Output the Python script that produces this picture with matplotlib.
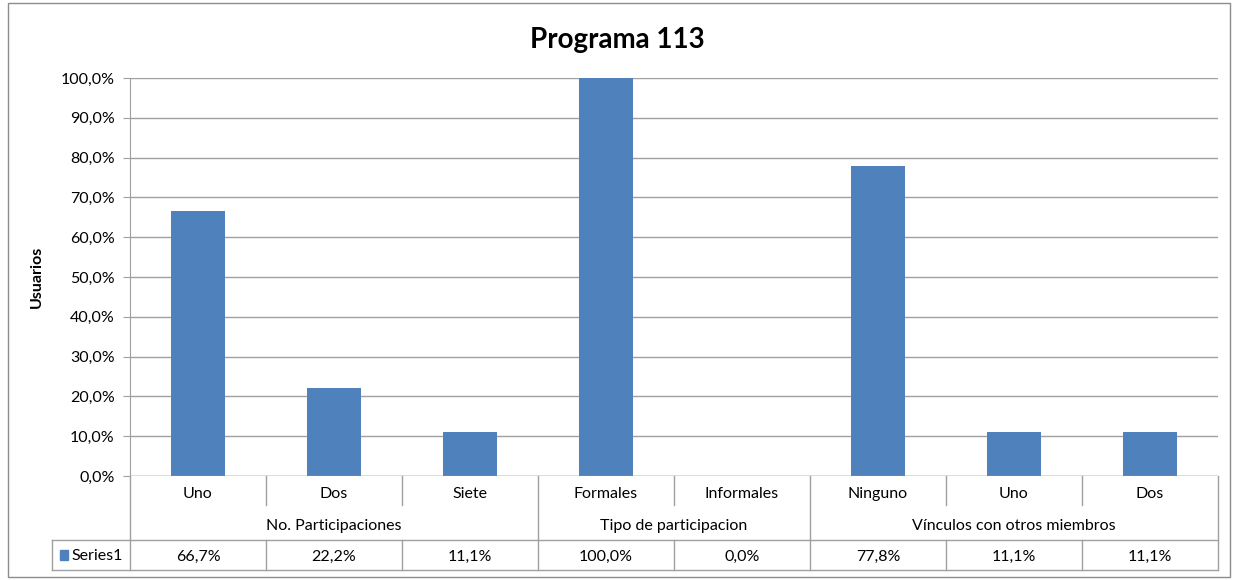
import matplotlib
matplotlib.use("Agg")
import matplotlib.pyplot as plt
from matplotlib.patches import Rectangle
from matplotlib.transforms import blended_transform_factory

plt.rcParams["font.family"] = ["Lato", "DejaVu Sans"]

# datos del grafico
categorias = ["Uno", "Dos", "Siete", "Formales", "Informales", "Ninguno", "Uno", "Dos"]
grupos = ["No. Participaciones", "Tipo de participacion", "Vínculos con otros miembros"]
tam_grupos = [3, 2, 3]
valores = [66.7, 22.2, 11.1, 100.0, 0.0, 77.8, 11.1, 11.1]
serie = "Series1"
yticks = [0, 10, 20, 30, 40, 50, 60, 70, 80, 90, 100]

color_barra = "#4F81BD"
gris = "#A0A0A0"
fs = 11.5

W, H = 1234, 580
fig = plt.figure(figsize=(W / 100, H / 100), dpi=100)
# area de trazado en pixeles: x 130-1218, y 78-476
ax = fig.add_axes([130 / W, 1 - 476 / H, (1218 - 130) / W, (476 - 78) / H])

x = list(range(len(categorias)))
ax.bar(x, valores, width=0.4, color=color_barra, zorder=3)
ax.set_xlim(-0.5, len(categorias) - 0.5)
ax.set_ylim(0, 100)
ax.set_yticks(yticks)
ax.set_yticklabels([f"{v:.1f}%".replace(".", ",") for v in yticks], fontsize=fs)
ax.yaxis.grid(True, color=gris, lw=1, zorder=0)
ax.set_xticks([])
for s in ["top", "right", "bottom"]:
    ax.spines[s].set_visible(False)
ax.spines["left"].set_color(gris)
ax.tick_params(axis="y", length=5, color=gris, pad=6)
ax.set_ylabel("Usuarios", fontsize=fs, fontweight="bold", labelpad=12)
ax.axhline(0, color=gris, lw=1, zorder=4)

fig.suptitle("Programa 113", fontsize=20, fontweight="bold", y=1 - 40 / H, va="center")

# tabla de datos debajo del eje
tr = blended_transform_factory(ax.transData, ax.transAxes)
px = (1218 - 130) / len(categorias)
x_izq = -0.5 - (130 - 52) / px
y_cat = -33 / 398
y_grp = -64 / 398
y_ser = -94 / 398
kw = dict(color=gris, lw=1, transform=tr, clip_on=False)

ax.plot([x_izq, 7.5], [y_grp, y_grp], **kw)
ax.plot([x_izq, 7.5], [y_ser, y_ser], **kw)
ax.plot([x_izq, x_izq], [y_grp, y_ser], **kw)

limites = [-0.5]
for n in tam_grupos:
    limites.append(limites[-1] + n)
for b in [i - 0.5 for i in range(len(categorias) + 1)]:
    if b in limites:
        ax.plot([b, b], [0, y_ser], **kw)
    else:
        ax.plot([b, b], [0, y_cat + 0.01], **kw)
        ax.plot([b, b], [y_grp, y_ser], **kw)

tk = dict(ha="center", va="center_baseline", fontsize=fs, transform=tr)
for i, c in enumerate(categorias):
    ax.text(i, y_cat / 2, c, **tk)
    ax.text(i, (y_grp + y_ser) / 2, f"{valores[i]:.1f}%".replace(".", ","), **tk)
for g, a, b in zip(grupos, limites[:-1], limites[1:]):
    ax.text((a + b) / 2, (y_cat + y_grp) / 2, g, **tk)

# clave de leyenda en la tabla
xk = x_izq + 8 / px
ax.add_patch(Rectangle((xk, (y_grp + y_ser) / 2 - 0.012), 8 / px, 0.024,
                       color=color_barra, transform=tr, clip_on=False))
ax.text(xk + 11 / px, (y_grp + y_ser) / 2, serie, ha="left", va="center_baseline",
        fontsize=fs, transform=tr)

# borde del grafico
fig.patches.append(Rectangle((8 / W, 3 / H), (1230 - 8) / W, (577 - 3) / H,
                             transform=fig.transFigure, fill=False,
                             edgecolor="#8C8C8C", lw=1))

fig.savefig("out.png", dpi=100)
